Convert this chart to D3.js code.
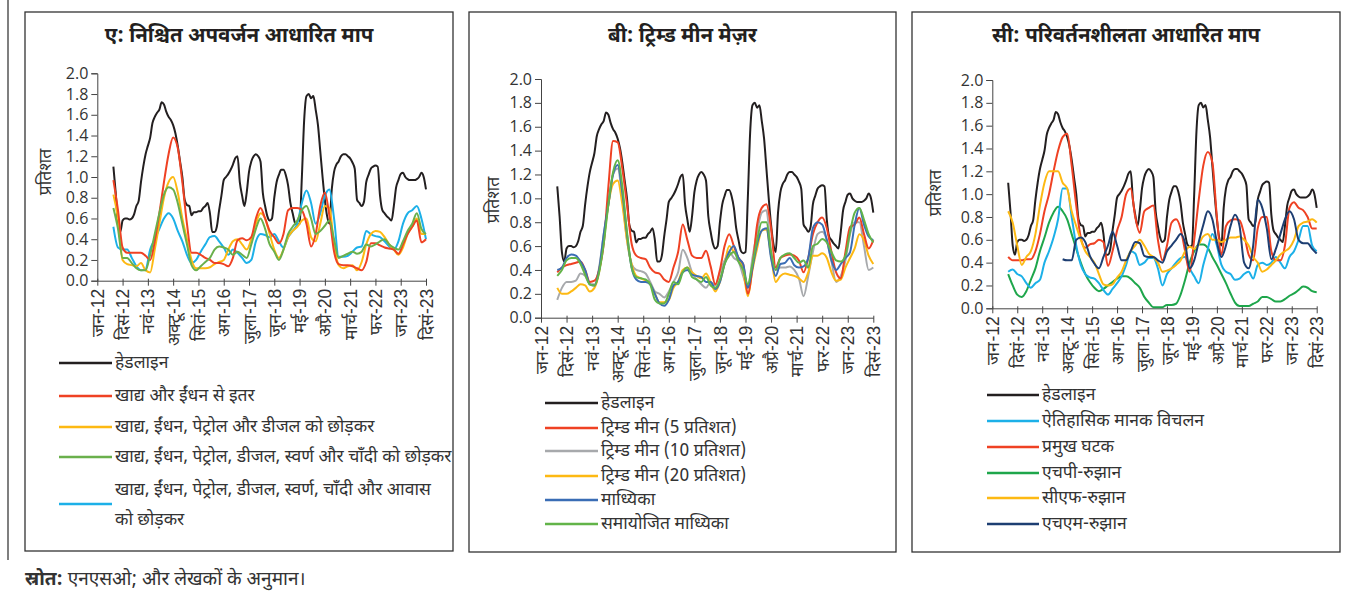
<!DOCTYPE html>
<html>
<head>
<meta charset="utf-8">
<script src="https://cdn.jsdelivr.net/npm/d3@7"></script>
<style>
  body { margin: 0; background: #fff; }
  svg { font-family: "Noto Sans Devanagari", "Noto Sans", "Lohit Devanagari", sans-serif; }
</style>
</head>
<body>
<div id="chart"></div>
<script>
// x axis: month index counted from Jan-2012 (0) to Dec-2023 (143)
const tickMonths = [0, 11, 22, 33, 44, 55, 66, 77, 88, 99, 110, 121, 132, 143];
const tickLabels = ["जन-12", "दिसं-12", "नवं-13", "अक्टू-14", "सितं-15", "अग-16", "जुला-17",
                    "जून-18", "मई-19", "अप्रै-20", "मार्च-21", "फर-22", "जन-23", "दिसं-23"];
const yTicks = [0, 0.2, 0.4, 0.6, 0.8, 1.0, 1.2, 1.4, 1.6, 1.8, 2.0];

// headline: monthly, from Aug-2012 (month 7)
const headline = [
  1.1, 0.85, 0.55, 0.47, 0.58, 0.6, 0.6, 0.59, 0.6, 0.64, 0.72, 0.77, 0.95, 1.1, 1.22, 1.3, 1.38, 1.52, 1.58, 1.62,
  1.65, 1.72, 1.7, 1.63, 1.58, 1.55, 1.5, 1.42, 1.3, 1.15, 1.0, 0.78, 0.73, 0.72, 0.63, 0.66, 0.66, 0.67, 0.67, 0.7,
  0.72, 0.75, 0.65, 0.47, 0.47, 0.52, 0.68, 0.82, 0.97, 1.0, 1.03, 1.07, 1.12, 1.18, 1.2, 0.95, 0.82, 0.72, 0.85, 1.05,
  1.15, 1.2, 1.22, 1.2, 1.15, 0.85, 0.72, 0.62, 0.58, 0.6, 0.8, 0.95, 1.02, 1.07, 1.07, 1.02, 0.92, 0.75, 0.65, 0.56,
  0.54, 0.55, 1.0, 1.55, 1.78, 1.8, 1.76, 1.78, 1.65, 1.5, 1.25, 1.0, 0.78, 0.62, 0.55, 0.88, 1.05, 1.12, 1.15, 1.2,
  1.22, 1.22, 1.2, 1.18, 1.14, 1.08, 0.78, 0.75, 0.72, 0.76, 0.95, 1.02, 1.08, 1.1, 1.11, 1.1, 0.82, 0.68, 0.65, 0.62,
  0.6, 0.58, 0.72, 0.9, 0.97, 1.03, 1.04, 1.0, 0.98, 0.97, 0.97, 0.97, 0.98, 1.0, 1.04, 1.0, 0.88
];

// the other series: every second month, from Aug-2012 (month 7)
// A: exclusion based measures
const exFoodFuel = [
  0.97, 0.68, 0.32, 0.27, 0.27, 0.27, 0.27, 0.24, 0.2, 0.38, 0.65, 0.95, 1.22, 1.38, 1.28, 0.95, 0.55, 0.27, 0.27, 0.25,
  0.22, 0.2, 0.17, 0.17, 0.16, 0.14, 0.22, 0.39, 0.41, 0.39, 0.42, 0.6, 0.7, 0.6, 0.48, 0.42, 0.36, 0.45, 0.68, 0.7,
  0.7, 0.68, 0.55, 0.33, 0.45, 0.72, 0.85, 0.62, 0.28, 0.16, 0.15, 0.15, 0.14, 0.12, 0.1, 0.18, 0.36, 0.36, 0.34, 0.32,
  0.31, 0.3, 0.26, 0.35, 0.45, 0.52, 0.58, 0.37, 0.4
];
const exPetrolDiesel = [
  0.83, 0.6, 0.2, 0.16, 0.15, 0.14, 0.17, 0.1, 0.08, 0.3, 0.55, 0.8, 0.95, 1.0, 0.85, 0.6, 0.4, 0.2, 0.12, 0.12,
  0.12, 0.13, 0.16, 0.18, 0.2, 0.3, 0.38, 0.4, 0.35, 0.3, 0.4, 0.55, 0.65, 0.6, 0.45, 0.3, 0.22, 0.3, 0.42, 0.48,
  0.52, 0.58, 0.6, 0.42, 0.38, 0.55, 0.72, 0.7, 0.35, 0.15, 0.12, 0.14, 0.15, 0.1, 0.18, 0.35, 0.45, 0.48, 0.47, 0.42,
  0.35, 0.3, 0.25, 0.32, 0.45, 0.52, 0.6, 0.45, 0.45
];
const exGoldSilver = [
  0.7, 0.5, 0.22, 0.22, 0.17, 0.12, 0.1, 0.1, 0.25, 0.45, 0.65, 0.83, 0.9, 0.88, 0.75, 0.55, 0.35, 0.15, 0.1, 0.14,
  0.18, 0.22, 0.3, 0.33, 0.32, 0.3, 0.25, 0.28, 0.25, 0.22, 0.35, 0.5, 0.6, 0.5, 0.35, 0.28, 0.2, 0.3, 0.45, 0.52,
  0.58, 0.68, 0.72, 0.6, 0.45, 0.48, 0.53, 0.58, 0.4, 0.22, 0.24, 0.26, 0.28, 0.26, 0.28, 0.35, 0.33, 0.35, 0.38, 0.4,
  0.35, 0.32, 0.3, 0.38, 0.48, 0.55, 0.65, 0.5, 0.45
];
const exHousing = [
  0.52, 0.32, 0.3, 0.3, 0.22, 0.14, 0.1, 0.11, 0.3, 0.4, 0.5, 0.6, 0.65, 0.6, 0.48, 0.38, 0.25, 0.17, 0.2, 0.28,
  0.35, 0.42, 0.43, 0.38, 0.32, 0.25, 0.3, 0.27, 0.22, 0.17, 0.2, 0.38, 0.45, 0.44, 0.42, 0.45, 0.38, 0.32, 0.42, 0.48,
  0.55, 0.75, 0.87, 0.75, 0.55, 0.65, 0.82, 0.88, 0.6, 0.23, 0.23, 0.24, 0.28, 0.32, 0.33, 0.48, 0.45, 0.43, 0.42, 0.38,
  0.33, 0.3, 0.38, 0.55, 0.65, 0.68, 0.72, 0.6, 0.4
];

// B: trimmed mean measures
const trim5 = [
  0.38, 0.42, 0.44, 0.45, 0.46, 0.47, 0.4, 0.3, 0.31, 0.4, 0.62, 1.1, 1.48, 1.47, 1.25, 0.95, 0.62, 0.52, 0.5, 0.49,
  0.42, 0.38, 0.37, 0.32, 0.3, 0.42, 0.55, 0.78, 0.65, 0.52, 0.5, 0.5, 0.56, 0.43, 0.28, 0.4, 0.6, 0.7, 0.6, 0.5,
  0.45, 0.2, 0.42, 0.78, 0.92, 0.95, 0.75, 0.42, 0.5, 0.52, 0.53, 0.52, 0.48, 0.38, 0.5, 0.7, 0.8, 0.84, 0.75, 0.55,
  0.38, 0.33, 0.55, 0.76, 0.78, 0.84, 0.7, 0.58, 0.65
];
const trim10 = [
  0.15, 0.25, 0.3, 0.3, 0.31, 0.37, 0.35, 0.28, 0.28, 0.42, 0.7, 0.95, 1.2, 1.25, 1.0, 0.65, 0.45, 0.4, 0.39, 0.37,
  0.3, 0.22, 0.2, 0.17, 0.22, 0.3, 0.38, 0.57, 0.5, 0.38, 0.32, 0.28, 0.25, 0.3, 0.27, 0.38, 0.48, 0.55, 0.5, 0.47,
  0.35, 0.25, 0.5, 0.72, 0.88, 0.9, 0.55, 0.4, 0.42, 0.42, 0.43, 0.4, 0.33, 0.18, 0.35, 0.55, 0.7, 0.72, 0.65, 0.47,
  0.3, 0.35, 0.48, 0.7, 0.8, 0.8, 0.6, 0.4, 0.42
];
const trim20 = [
  0.25, 0.2, 0.2, 0.22, 0.25, 0.28, 0.27, 0.22, 0.25, 0.38, 0.65, 0.95, 1.12, 1.15, 0.95, 0.65, 0.45, 0.35, 0.33, 0.31,
  0.28, 0.2, 0.13, 0.13, 0.15, 0.25, 0.3, 0.4, 0.42, 0.38, 0.35, 0.33, 0.37, 0.3, 0.22, 0.3, 0.45, 0.6, 0.55, 0.5,
  0.4, 0.18, 0.4, 0.58, 0.73, 0.74, 0.52, 0.3, 0.35, 0.37, 0.36, 0.35, 0.33, 0.3, 0.38, 0.52, 0.52, 0.54, 0.5, 0.38,
  0.31, 0.32, 0.42, 0.5, 0.58, 0.7, 0.65, 0.52, 0.45
];
const median = [
  0.4, 0.42, 0.5, 0.53, 0.52, 0.47, 0.4, 0.28, 0.27, 0.4, 0.7, 0.95, 1.2, 1.28, 1.05, 0.7, 0.42, 0.32, 0.3, 0.3,
  0.28, 0.2, 0.12, 0.1, 0.15, 0.27, 0.3, 0.38, 0.4, 0.36, 0.35, 0.34, 0.3, 0.3, 0.24, 0.3, 0.45, 0.55, 0.6, 0.5,
  0.45, 0.25, 0.42, 0.62, 0.73, 0.75, 0.5, 0.35, 0.45, 0.46, 0.5, 0.44, 0.42, 0.43, 0.5, 0.75, 0.8, 0.78, 0.65, 0.48,
  0.4, 0.45, 0.5, 0.55, 0.78, 0.92, 0.78, 0.68, 0.65
];
const adjMedian = [
  0.35, 0.4, 0.48, 0.5, 0.5, 0.45, 0.36, 0.28, 0.27, 0.38, 0.62, 0.95, 1.22, 1.32, 1.1, 0.72, 0.42, 0.34, 0.33, 0.32,
  0.28, 0.15, 0.12, 0.12, 0.2, 0.3, 0.28, 0.38, 0.42, 0.34, 0.32, 0.3, 0.34, 0.27, 0.25, 0.32, 0.45, 0.52, 0.55, 0.47,
  0.4, 0.28, 0.45, 0.65, 0.8, 0.8, 0.55, 0.4, 0.5, 0.53, 0.54, 0.5, 0.46, 0.48, 0.42, 0.6, 0.62, 0.66, 0.63, 0.55,
  0.48, 0.47, 0.52, 0.72, 0.88, 0.92, 0.82, 0.7, 0.63
];

// C: variability based measures
const histSD = [
  0.32, 0.34, 0.3, 0.28, 0.22, 0.18, 0.22, 0.25, 0.4, 0.5, 0.62, 0.78, 1.05, 1.05, 0.8, 0.55, 0.38, 0.3, 0.27, 0.26,
  0.22, 0.16, 0.12, 0.17, 0.22, 0.28, 0.38, 0.5, 0.48, 0.38, 0.4, 0.44, 0.44, 0.35, 0.2, 0.3, 0.35, 0.4, 0.44, 0.45,
  0.35, 0.28, 0.22, 0.38, 0.52, 0.65, 0.55, 0.38, 0.32, 0.3, 0.25, 0.26, 0.3, 0.32, 0.26, 0.38, 0.4, 0.38, 0.4, 0.45,
  0.4, 0.35, 0.45, 0.5, 0.6, 0.72, 0.72, 0.55, 0.5
];
const principal = [
  0.45, 0.42, 0.42, 0.42, 0.43, 0.43, 0.5, 0.65, 0.85, 1.0, 1.2, 1.38, 1.5, 1.53, 1.25, 0.9, 0.62, 0.53, 0.56, 0.57,
  0.6, 0.58, 0.37, 0.5, 0.68, 0.8, 1.0, 1.05, 0.8, 0.66, 0.85, 0.88, 0.9, 0.6, 0.42, 0.55, 0.75, 0.78, 0.7, 0.5,
  0.32, 0.6, 0.95, 1.25, 1.37, 1.28, 0.8, 0.47, 0.72, 0.77, 0.78, 0.77, 0.65, 0.47, 0.42, 0.7, 0.8, 0.8, 0.5, 0.42,
  0.42, 0.55, 0.88, 0.93, 0.88, 0.86, 0.8, 0.7, 0.7
];
const hpTrend = [
  0.3, 0.2, 0.12, 0.1, 0.15, 0.25, 0.35, 0.5, 0.62, 0.75, 0.84, 0.89, 0.85, 0.78, 0.65, 0.52, 0.4, 0.3, 0.23, 0.18,
  0.15, 0.17, 0.2, 0.23, 0.26, 0.28, 0.28, 0.26, 0.22, 0.18, 0.1, 0.05, 0.01, 0.01, 0.01, 0.03, 0.03, 0.04, 0.12, 0.25,
  0.4, 0.5, 0.56, 0.56, 0.53, 0.45, 0.38, 0.3, 0.22, 0.13, 0.05, 0.02, 0.02, 0.02, 0.04, 0.06, 0.1, 0.1, 0.08, 0.06,
  0.06, 0.08, 0.11, 0.13, 0.16, 0.19, 0.18, 0.15, 0.14
];
const cfTrend = [
  0.85, 0.75, 0.55, 0.38, 0.45, 0.5, 0.65, 0.9, 1.1, 1.2, 1.2, 1.2, 1.1, 1.05, 0.85, 0.72, 0.6, 0.5, 0.45, 0.4,
  0.3, 0.21, 0.2, 0.21, 0.27, 0.32, 0.42, 0.5, 0.55, 0.6, 0.55, 0.48, 0.45, 0.4, 0.32, 0.33, 0.35, 0.38, 0.42, 0.5,
  0.54, 0.52, 0.56, 0.63, 0.65, 0.6, 0.6, 0.58, 0.6, 0.62, 0.62, 0.63, 0.6, 0.55, 0.45, 0.4, 0.32, 0.34, 0.38, 0.42,
  0.47, 0.5, 0.53, 0.6, 0.72, 0.75, 0.76, 0.78, 0.75
];
// HM trend starts later: every second month from Aug-2014 (month 31)
const hmTrend = [
  0.43, 0.42, 0.42, 0.6, 0.62, 0.58, 0.46, 0.39, 0.35, 0.45, 0.55, 0.67, 0.55, 0.42, 0.42, 0.5, 0.58, 0.57, 0.46, 0.45,
  0.45, 0.42, 0.4, 0.5, 0.55, 0.6, 0.65, 0.57, 0.35, 0.42, 0.58, 0.73, 0.85, 0.78, 0.58, 0.45, 0.55, 0.72, 0.82, 0.72,
  0.4, 0.35, 0.55, 0.95, 0.88, 0.7, 0.43, 0.52, 0.65, 0.78, 0.85, 0.78, 0.6, 0.57, 0.57, 0.52, 0.48
];

const C = {
  black: "#231f20", red: "#ef4123", yellow: "#fdb913", green: "#6ab04c",
  cyan: "#1cb0e8", gray: "#a7a9ac", blue: "#3a6db5", green2: "#62b449",
  green3: "#1ea64b", navy: "#1d3e72"
};

const hl = {name: "हेडलाइन", color: C.black, values: headline, start: 7, step: 1};

const panels = [
  {
    title: "ए: निश्चित अपवर्जन आधारित माप",
    box: [25, 12, 453, 551],
    x0: 97.3, x1: 426, yb: 280.7, yt: 73.3, ytitle: [45, 172],
    legend: {x1: 59, x2: 112, rows: [363, 396, 427, 457, 504]},
    series: [
      hl,
      {name: "खाद्य और ईंधन से इतर", color: C.red, values: exFoodFuel, start: 7, step: 2},
      {name: "खाद्य, ईंधन, पेट्रोल और डीजल को छोड़कर", color: C.yellow, values: exPetrolDiesel, start: 7, step: 2},
      {name: "खाद्य, ईंधन, पेट्रोल, डीजल, स्वर्ण और चाँदी को छोड़कर", color: C.green, values: exGoldSilver, start: 7, step: 2},
      {name: ["खाद्य, ईंधन, पेट्रोल, डीजल, स्वर्ण, चाँदी और आवास", "को छोड़कर"], color: C.cyan, values: exHousing, start: 7, step: 2}
    ],
    drawOrder: [0, 4, 2, 1, 3]
  },
  {
    title: "बी: ट्रिम्ड मीन मेज़र",
    box: [469, 12, 896, 552],
    x0: 541, x1: 873.3, yb: 317.7, yt: 79, ytitle: [493, 200],
    legend: {x1: 545, x2: 598, rows: [403, 428, 451, 476, 500, 524]},
    series: [
      hl,
      {name: "ट्रिम्ड मीन (5 प्रतिशत)", color: C.red, values: trim5, start: 7, step: 2},
      {name: "ट्रिम्ड मीन (10 प्रतिशत)", color: C.gray, values: trim10, start: 7, step: 2},
      {name: "ट्रिम्ड मीन (20 प्रतिशत)", color: C.yellow, values: trim20, start: 7, step: 2},
      {name: "माध्यिका", color: C.blue, values: median, start: 7, step: 2},
      {name: "समायोजित माध्यिका", color: C.green2, values: adjMedian, start: 7, step: 2}
    ],
    drawOrder: [0, 2, 3, 1, 4, 5]
  },
  {
    title: "सी: परिवर्तनशीलता आधारित माप",
    box: [912, 12, 1340, 552],
    x0: 992.3, x1: 1316.7, yb: 308.3, yt: 80, ytitle: [935, 193],
    legend: {x1: 987, x2: 1039, rows: [395, 421, 447, 473, 498, 524]},
    series: [
      hl,
      {name: "ऐतिहासिक मानक विचलन", color: C.cyan, values: histSD, start: 7, step: 2},
      {name: "प्रमुख घटक", color: C.red, values: principal, start: 7, step: 2},
      {name: "एचपी-रुझान", color: C.green3, values: hpTrend, start: 7, step: 2},
      {name: "सीएफ-रुझान", color: C.yellow, values: cfTrend, start: 7, step: 2},
      {name: "एचएम-रुझान", color: C.navy, values: hmTrend, start: 31, step: 2}
    ],
    drawOrder: [3, 1, 0, 2, 4, 5]
  }
];

const svg = d3.select("#chart").append("svg")
  .attr("width", 1358)
  .attr("height", 594);

// outer frame edge on the left
svg.append("line")
  .attr("x1", 8).attr("x2", 8).attr("y1", 0).attr("y2", 560)
  .attr("stroke", "#555").attr("stroke-width", 1.5);

panels.forEach(p => {
  const g = svg.append("g");

  g.append("rect")
    .attr("x", p.box[0]).attr("y", p.box[1])
    .attr("width", p.box[2] - p.box[0]).attr("height", p.box[3] - p.box[1])
    .attr("fill", "none").attr("stroke", "#333").attr("stroke-width", 1.3);

  // title centred in the panel box
  g.append("text")
    .attr("x", (p.box[0] + p.box[2]) / 2).attr("y", 42)
    .attr("text-anchor", "middle")
    .attr("font-size", 20.5).attr("font-weight", "bold")
    .attr("fill", C.black)
    .text(p.title);

  const x = d3.scaleLinear().domain([0, 143]).range([p.x0, p.x1]);
  const y = d3.scaleLinear().domain([0, 2]).range([p.yb, p.yt]);

  // y axis
  const yAxis = g.append("g")
    .attr("transform", `translate(${p.x0},0)`)
    .call(d3.axisLeft(y).tickValues(yTicks).tickFormat(d3.format(".1f")).tickSize(6).tickPadding(3));
  yAxis.select(".domain").attr("stroke", "#444");
  yAxis.selectAll(".tick line").attr("stroke", "#444");
  yAxis.selectAll("text")
    .attr("font-size", 16).attr("fill", "#333")
    .attr("font-family", "'Open Sans', sans-serif");

  // x axis
  const xAxis = g.append("g")
    .attr("transform", `translate(0,${p.yb})`)
    .call(d3.axisBottom(x).tickValues(tickMonths).tickFormat((d, i) => tickLabels[i]).tickSize(5).tickSizeOuter(0));
  xAxis.select(".domain").attr("stroke", "#444");
  xAxis.selectAll(".tick line").attr("stroke", "#444").attr("y1", -2);
  xAxis.selectAll("text")
    .attr("transform", "rotate(-90)")
    .attr("text-anchor", "end")
    .attr("x", -8).attr("y", 0).attr("dy", "0.35em")
    .attr("font-size", 17.5).attr("fill", "#333");

  g.append("text")
    .attr("transform", `translate(${p.ytitle[0]},${p.ytitle[1]}) rotate(-90)`)
    .attr("text-anchor", "middle").attr("dy", "0.35em")
    .attr("font-size", 17.5).attr("fill", "#333")
    .text("प्रतिशत");

  const line = d3.line()
    .x(d => x(d.m))
    .y(d => y(d.v))
    .curve(d3.curveMonotoneX);

  p.drawOrder.forEach(k => {
    const s = p.series[k];
    const pts = s.values.map((v, i) => ({m: s.start + i * s.step, v: v}));
    g.append("path")
      .datum(pts)
      .attr("fill", "none")
      .attr("stroke", s.color)
      .attr("stroke-width", 2)
      .attr("stroke-linejoin", "round")
      .attr("d", line);
  });

  // legend
  const lg = g.append("g");
  p.series.forEach((s, i) => {
    const yy = p.legend.rows[i];
    lg.append("line")
      .attr("x1", p.legend.x1).attr("x2", p.legend.x2)
      .attr("y1", yy).attr("y2", yy)
      .attr("stroke", s.color).attr("stroke-width", 2.5);
    const names = Array.isArray(s.name) ? s.name : [s.name];
    const t = lg.append("text")
      .attr("x", p.legend.x2 + 3)
      .attr("y", yy - (names.length - 1) * 14)
      .attr("font-size", 17.5).attr("fill", "#333");
    names.forEach((n, j) => {
      t.append("tspan")
        .attr("x", p.legend.x2 + 3)
        .attr("dy", j === 0 ? "0.3em" : 30)
        .text(n);
    });
  });
});

// source note
const src = svg.append("text")
  .attr("x", 25).attr("y", 585)
  .attr("font-size", 19).attr("fill", "#333");
src.append("tspan").attr("font-weight", "bold").text("स्रोत:");
src.append("tspan").text(" एनएसओ; और लेखकों के अनुमान।");
</script>
</body>
</html>
